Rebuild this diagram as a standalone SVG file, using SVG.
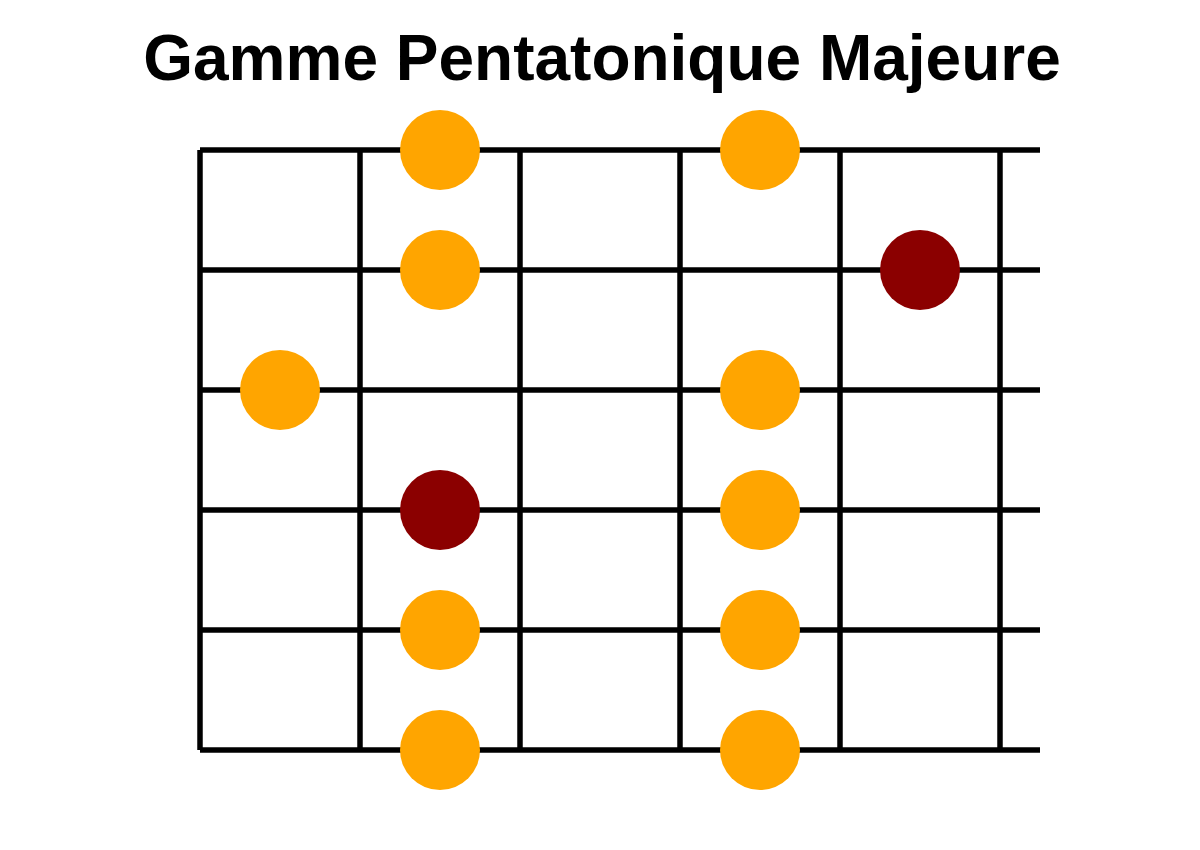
<svg xmlns="http://www.w3.org/2000/svg" width="1200" height="850" viewBox="0 0 1200 850">
<style>
.t{font-family:"Liberation Sans",Arial,sans-serif;font-weight:bold;font-size:64px;fill:#000}
.g{stroke:#000;stroke-width:5.5;stroke-linecap:butt;fill:none}
.o{fill:#FFA500}
.r{fill:#8B0000}
</style>
<rect width="1200" height="850" fill="#fff"/>
<text class="t" x="602" y="80" text-anchor="middle">Gamme Pentatonique Majeure</text>
<g id="grid" class="g">
<line x1="200" y1="150" x2="1040" y2="150"/>
<line x1="200" y1="270" x2="1040" y2="270"/>
<line x1="200" y1="390" x2="1040" y2="390"/>
<line x1="200" y1="510" x2="1040" y2="510"/>
<line x1="200" y1="630" x2="1040" y2="630"/>
<line x1="200" y1="750" x2="1040" y2="750"/>
<line x1="200" y1="150" x2="200" y2="750"/>
<line x1="360" y1="150" x2="360" y2="750"/>
<line x1="520" y1="150" x2="520" y2="750"/>
<line x1="680" y1="150" x2="680" y2="750"/>
<line x1="840" y1="150" x2="840" y2="750"/>
<line x1="1000" y1="150" x2="1000" y2="750"/>
</g>
<g id="notes">
<circle id="n1" class="o" cx="440" cy="150" r="40"/>
<circle id="n2" class="o" cx="760" cy="150" r="40"/>
<circle id="n3" class="o" cx="440" cy="270" r="40"/>
<circle id="n4" class="r" cx="920" cy="270" r="40"/>
<circle id="n5" class="o" cx="280" cy="390" r="40"/>
<circle id="n6" class="o" cx="760" cy="390" r="40"/>
<circle id="n7" class="r" cx="440" cy="510" r="40"/>
<circle id="n8" class="o" cx="760" cy="510" r="40"/>
<circle id="n9" class="o" cx="440" cy="630" r="40"/>
<circle id="n10" class="o" cx="760" cy="630" r="40"/>
<circle id="n11" class="o" cx="440" cy="750" r="40"/>
<circle id="n12" class="o" cx="760" cy="750" r="40"/>
</g>
</svg>
